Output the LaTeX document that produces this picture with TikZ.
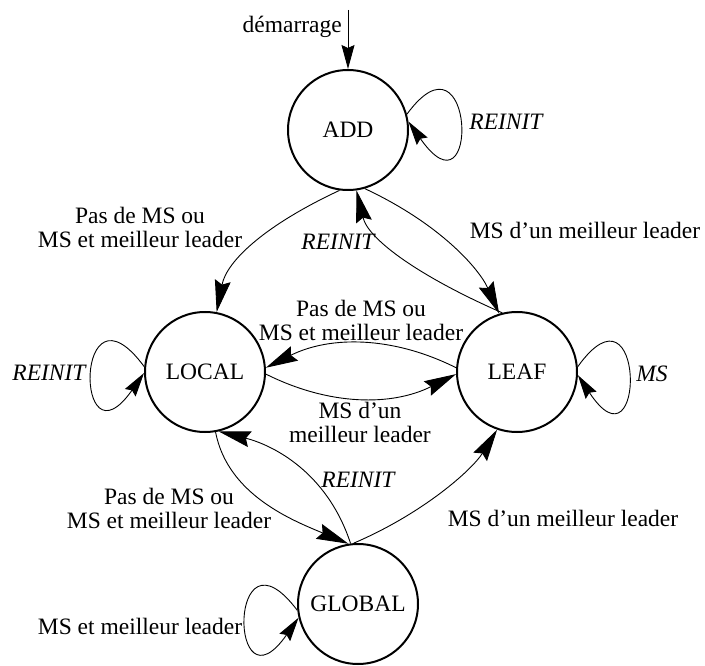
\documentclass[tikz,border=0pt]{standalone}
\usepackage{fontspec}
\setmainfont{Liberation Serif}
\usetikzlibrary{arrows.meta}
\begin{document}
\begin{tikzpicture}[x=1pt,y=-1pt,
  every node/.style={font=\fontsize{23.5}{24}\selectfont},
  state/.style={circle,draw,line width=2pt,minimum size=120pt,inner sep=0pt},
  conn/.style={line width=0.9pt,-{Stealth[length=32pt,width=16pt,inset=4pt]}},
  sconn/.style={line width=0.9pt,-{Stealth[length=24pt,width=13pt,inset=3pt]}},
  lbl/.style={inner sep=0pt,align=center}]
\useasboundingbox (0,0) rectangle (705,666);

% states
\node[state] (ADD)    at (348,130) {\raisebox{-4pt}{ADD}};
\node[state] (LOCAL)  at (205,372) {\raisebox{-4pt}{LOCAL}};
\node[state] (LEAF)   at (517,372) {\raisebox{-4pt}{LEAF}};
\node[state] (GLOBAL) at (358,604) {\raisebox{-5pt}{GLOBAL}};

% start
\coordinate (start) at (348,10);
\draw[sconn] (start) -- (ADD.north);
\node[lbl,anchor=base east] (tstart) at (342,33) {démarrage};

% ADD -> LOCAL
\draw[conn] (ADD.-98) .. controls +(-75,35) and +(10,-51) .. (LOCAL.79);
\node[lbl] (t1) at (140,227) {Pas de MS ou\\MS et meilleur leader};

% ADD -> LEAF
\draw[conn] (ADD.-74) .. controls +(75,35) and +(-20,-45) .. (LEAF.107);
\node[lbl] (t2) at (585,230) {MS d’un meilleur leader};

% LEAF -> ADD
\draw[conn] (LEAF.104) .. controls +(-80,-35) and +(12,50) .. (ADD.-82);
\node[lbl] (t3) at (338,242) {\itshape REINIT};

% LEAF -> LOCAL
\draw[conn] (LEAF.176) .. controls +(-64,-32) and +(64,-32) .. (LOCAL.4);
\node[lbl] (t4) at (361,320) {Pas de MS ou\\MS et meilleur leader};

% LOCAL -> LEAF
\draw[conn] (LOCAL.-2) .. controls +(64,32) and +(-64,32) .. (LEAF.182);
\node[lbl] (t5) at (360,422) {MS d’un\\meilleur leader};

% LOCAL -> GLOBAL
\draw[conn] (LOCAL.-80) .. controls +(12,63) and +(-55,-23) .. (GLOBAL.99);
\node[lbl] (t6) at (169,508) {Pas de MS ou\\MS et meilleur leader};

% GLOBAL -> LOCAL
\draw[conn] (GLOBAL.97) .. controls +(-24,-73) and +(52,13) .. (LOCAL.-77);
\node[lbl] (t7) at (358,480) {\itshape REINIT};

% GLOBAL -> LEAF
\draw[conn] (GLOBAL.94) .. controls +(70,-30) and +(-25,40) .. (LEAF.-109);
\node[lbl] (t8) at (563,518) {MS d’un meilleur leader};

% loops
\draw[sconn] (ADD.15) .. controls +(68,-93) and +(72,103) .. (ADD.8);
\node[lbl] (t9) at (506,122) {\itshape REINIT};

\draw[sconn] (LOCAL.175) .. controls +(-70,-95) and +(-70,100) .. (LOCAL.181);
\node[lbl] (t10) at (49,373) {\itshape REINIT};

\draw[sconn] (LEAF.5) .. controls +(68,-95) and +(68,103) .. (LEAF.-3);
\node[lbl] (t11) at (652,374) {\itshape MS};

\draw[sconn] (GLOBAL.186) .. controls +(-70,-93) and +(-70,100) .. (GLOBAL.193);
\node[lbl] (t12) at (140,626) {MS et meilleur leader};
\end{tikzpicture}
\end{document}
